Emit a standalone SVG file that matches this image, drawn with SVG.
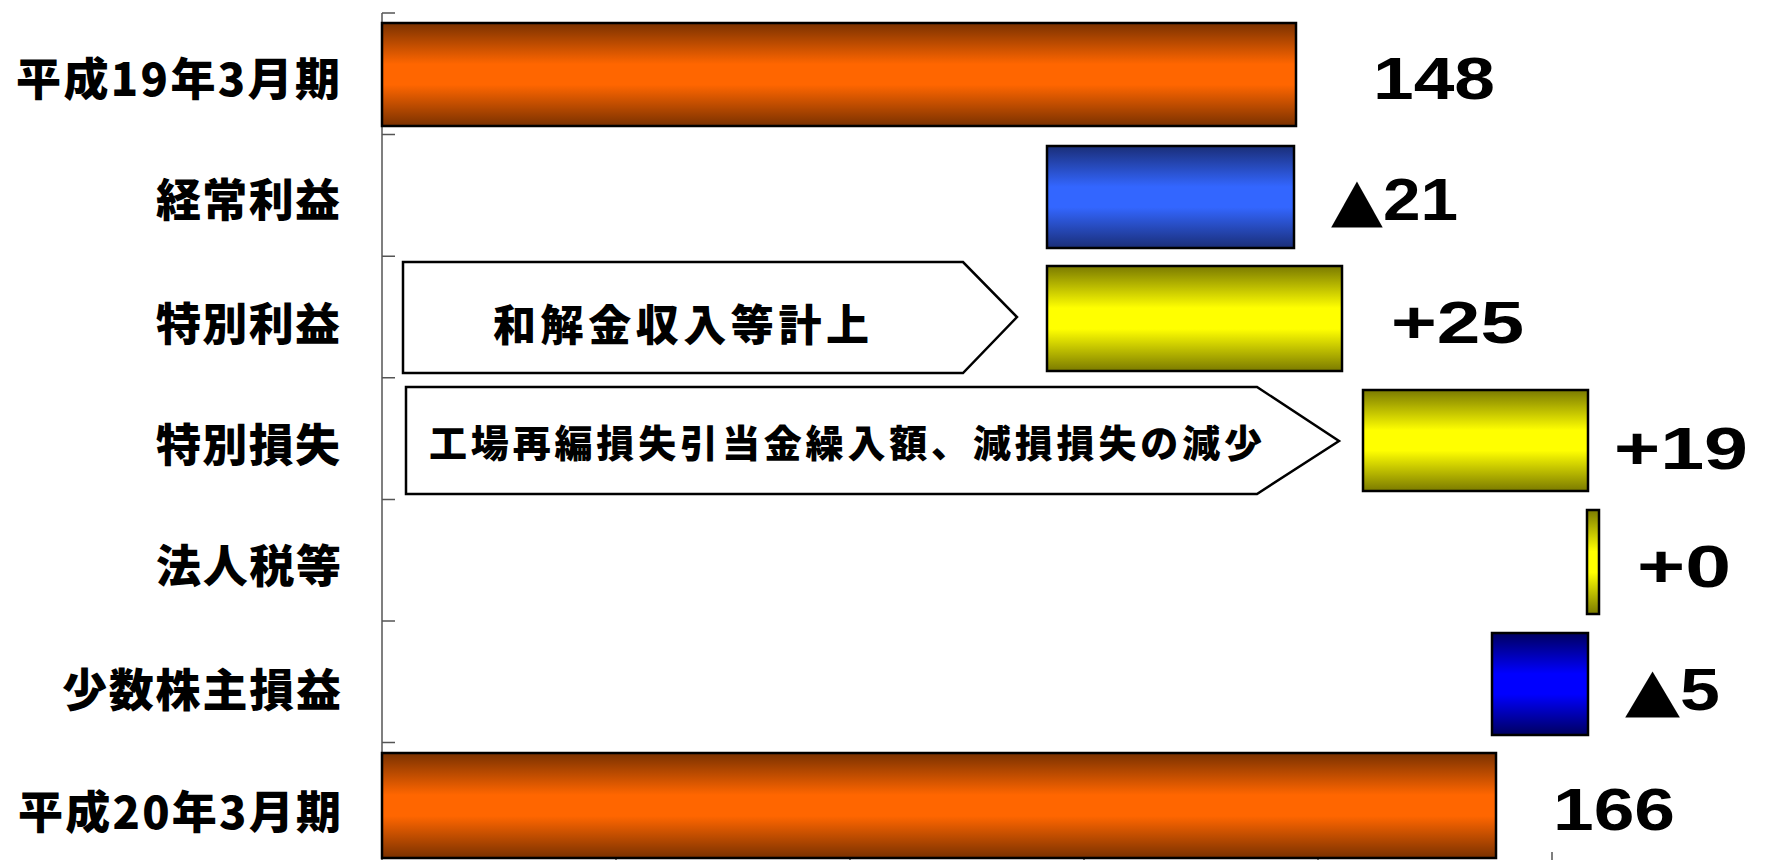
<svg xmlns="http://www.w3.org/2000/svg" width="1772" height="860" viewBox="0 0 1772 860">
<defs>
<linearGradient id="gOrange" x1="0" y1="0" x2="0" y2="1">
<stop offset="0" stop-color="#7a3100"/><stop offset="0.4" stop-color="#ff6600"/><stop offset="0.6" stop-color="#ff6600"/><stop offset="1" stop-color="#7a3100"/>
</linearGradient>
<linearGradient id="gBlue1" x1="0" y1="0" x2="0" y2="1">
<stop offset="0" stop-color="#1a2e78"/><stop offset="0.4" stop-color="#3366ff"/><stop offset="0.6" stop-color="#3366ff"/><stop offset="1" stop-color="#1a2e78"/>
</linearGradient>
<linearGradient id="gBlue2" x1="0" y1="0" x2="0" y2="1">
<stop offset="0" stop-color="#000060"/><stop offset="0.4" stop-color="#0000ff"/><stop offset="0.6" stop-color="#0000ff"/><stop offset="1" stop-color="#000060"/>
</linearGradient>
<linearGradient id="gYellow" x1="0" y1="0" x2="0" y2="1">
<stop offset="0" stop-color="#7a7a00"/><stop offset="0.4" stop-color="#ffff00"/><stop offset="0.6" stop-color="#ffff00"/><stop offset="1" stop-color="#7a7a00"/>
</linearGradient>
</defs>
<style>
.bar{stroke:#000;stroke-width:2.5}
.arrow{fill:#fff;stroke:#000;stroke-width:2.5;stroke-linejoin:miter}
.cat{font-family:"Noto Sans CJK JP",sans-serif;font-weight:900;font-size:45px;fill:#000;text-anchor:end;dominant-baseline:central}
.note{font-family:"Noto Sans CJK JP",sans-serif;font-weight:900;fill:#000;dominant-baseline:central}
.val{font-family:"Liberation Sans","DejaVu Sans",sans-serif;font-weight:bold;font-size:60px;fill:#000}
.tri{font-family:"DejaVu Sans",sans-serif}
.axis{stroke:#555;stroke-width:1.5;fill:none}
</style>
<rect width="1772" height="860" fill="#fff"/>
<g id="axis">
<line class="axis" x1="382" y1="13" x2="382" y2="860"/>
<path class="axis" d="M382 13H395M382 134.6H395M382 256.2H395M382 377.8H395M382 499.4H395M382 621H395M382 742.6H395"/>
<path class="axis" d="M616 852V860M850 852V860M1084 852V860M1318 852V860M1552 852V860"/>
</g>
<g id="labels">
<text class="cat" x="340" y="76.5" textLength="324" lengthAdjust="spacing">平成19年3月期</text>
<text class="cat" x="340" y="197.5" textLength="184" lengthAdjust="spacing">経常利益</text>
<text class="cat" x="340" y="321" textLength="184" lengthAdjust="spacing">特別利益</text>
<text class="cat" x="340" y="442" textLength="184" lengthAdjust="spacing">特別損失</text>
<text class="cat" x="341" y="563.5" textLength="185" lengthAdjust="spacing">法人税等</text>
<text class="cat" x="341" y="687" textLength="279" lengthAdjust="spacing">少数株主損益</text>
<text class="cat" x="341" y="809" textLength="323" lengthAdjust="spacing">平成20年3月期</text>
</g>
<g id="bar-h19">
<rect class="bar" x="382" y="23" width="914" height="103" fill="url(#gOrange)"/>
<text class="val" x="1373" y="99" textLength="122" lengthAdjust="spacingAndGlyphs">148</text>
</g>
<g id="bar-keijo">
<rect class="bar" x="1047" y="146" width="247" height="102" fill="url(#gBlue1)"/>
<text class="val" x="1331" y="220" textLength="127" lengthAdjust="spacingAndGlyphs"><tspan class="tri">▲</tspan>21</text>
</g>
<g id="bar-tokubetsu-rieki">
<rect class="bar" x="1047" y="266" width="295" height="105" fill="url(#gYellow)"/>
<text class="val" x="1391" y="343" textLength="133" lengthAdjust="spacingAndGlyphs">+25</text>
</g>
<g id="bar-tokubetsu-sonshitsu">
<rect class="bar" x="1363" y="390" width="225" height="101" fill="url(#gYellow)"/>
<text class="val" x="1614" y="469" textLength="134" lengthAdjust="spacingAndGlyphs">+19</text>
</g>
<g id="bar-hojinzei">
<rect class="bar" x="1587" y="510" width="12" height="104" fill="url(#gYellow)"/>
<text class="val" x="1637" y="587" textLength="94" lengthAdjust="spacingAndGlyphs">+0</text>
</g>
<g id="bar-shosu">
<rect class="bar" x="1492" y="633" width="96" height="102" fill="url(#gBlue2)"/>
<text class="val" x="1625" y="710" textLength="95" lengthAdjust="spacingAndGlyphs"><tspan class="tri">▲</tspan>5</text>
</g>
<g id="bar-h20">
<rect class="bar" x="382" y="753" width="1114" height="105" fill="url(#gOrange)"/>
<text class="val" x="1553" y="830" textLength="122" lengthAdjust="spacingAndGlyphs">166</text>
</g>
<g id="note-wakai">
<polygon class="arrow" points="403,262 963,262 1017,317 963,373 403,373"/>
<text class="note" x="493" y="322" font-size="43" textLength="376" lengthAdjust="spacing">和解金収入等計上</text>
</g>
<g id="note-kojo">
<polygon class="arrow" points="406,387 1257,387 1339,441 1257,494 406,494"/>
<text class="note" x="429" y="440" font-size="38" textLength="833" lengthAdjust="spacing">工場再編損失引当金繰入額、減損損失の減少</text>
</g>
<g id="connectors"></g>
</svg>
